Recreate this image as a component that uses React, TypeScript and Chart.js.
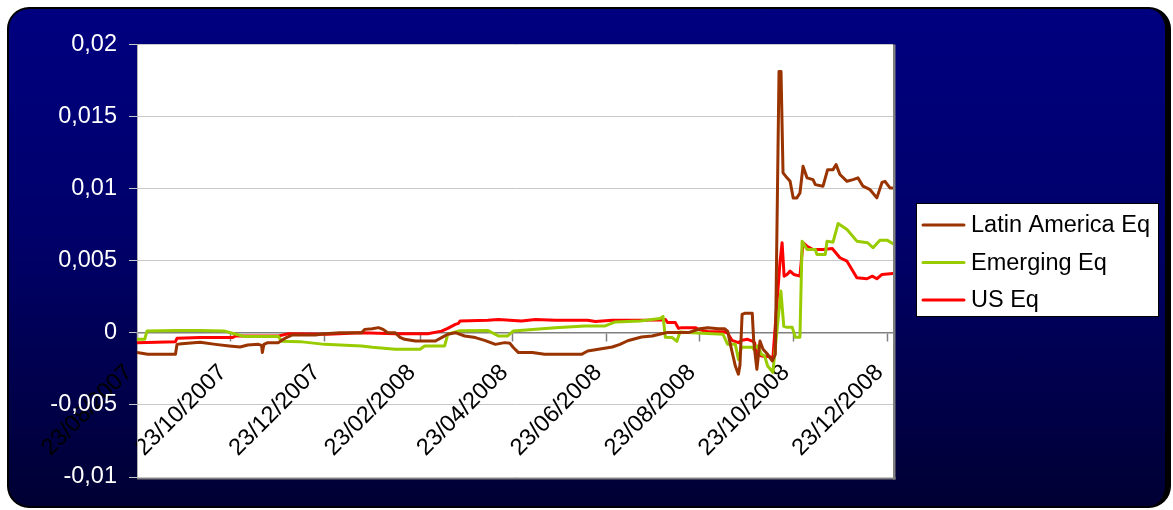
import React, { useEffect, useRef } from 'react';
import { Chart, registerables } from 'chart.js';

Chart.register(...registerables);

// ---- Axis definitions ----
const startDate = '23/08/2007';
const xTickLabels = [
  '23/08/2007', '23/10/2007', '23/12/2007', '23/02/2008', '23/04/2008',
  '23/06/2008', '23/08/2008', '23/10/2008', '23/12/2008',
];
const xMaxDay = 491.5; // last day shown (days since start date)
const yMin = -0.01;
const yMax = 0.02;
const yStep = 0.005;

// ---- Series (x = days since 23/08/2007) ----
const seriesLabels = ['Latin America Eq', 'Emerging Eq', 'US Eq'];

const latamDay = [
  0, 7, 25, 26, 29, 41, 51, 60, 67, 72, 79, 81, 81.5, 82.5, 85, 92, 94, 97.5, 101, 116,
  122, 132, 146, 148, 153, 157, 160, 163, 168, 171, 174, 181, 194, 198, 202, 207, 213, 220, 226, 233,
  239, 242.5, 244.5, 248, 257, 265, 289, 293, 300, 309, 314, 319, 328, 335, 341, 345, 359, 366, 371, 378,
  382, 384, 386, 389, 391, 392, 393.4, 395, 400, 401, 403, 405, 407, 410, 413, 415, 417.4, 418.7, 420, 422.6,
  424.6, 426.6, 429, 431, 433, 435.6, 439.5, 441, 446, 449, 452.5, 454.5, 457, 461.6, 465.5, 468.7, 472, 476.6, 481, 484.4,
  486.3, 489.5, 491.5,
];
const latamValue = [
  -0.00137, -0.00149, -0.00149, -0.0008, -0.00075, -0.00066, -0.0008, -0.00091, -0.00098, -0.00084,
  -0.0008, -0.00087, -0.00137, -0.0008, -0.00068, -0.00068, -0.00052, -0.00031, -0.00015, -0.00015,
  -0.00006, 0.00001, 0, 0.00024, 0.00028, 0.00036, 0.00024, 0.00001, 0, -0.00031,
  -0.00045, -0.00057, -0.00057, -0.00033, -0.0001, 0.00001, -0.00022, -0.00033, -0.00052, -0.0008,
  -0.00068, -0.00073, -0.001, -0.00137, -0.00137, -0.00149, -0.00149, -0.00126, -0.00114, -0.00098,
  -0.0008, -0.00055, -0.00029, -0.00022, -0.00006, 0.00003, 0.00003, 0.00028, 0.00036, 0.00029,
  0.00028, 0.00012, -0.00091, -0.0023, -0.00287, -0.00225, 0.00128, 0.00135, 0.00135, -0.00066,
  -0.00253, -0.00057, -0.00114, -0.00149, -0.00195, -0.00149, 0.01813, 0.01813, 0.0111, 0.01075,
  0.01051, 0.00936, 0.00936, 0.0097, 0.01155, 0.01075, 0.01063, 0.01028, 0.01017, 0.01132,
  0.01132, 0.01167, 0.01098, 0.01051, 0.01063, 0.01075, 0.01017, 0.00993, 0.00936, 0.01044,
  0.01051, 0.01005, 0.01005,
];

const emergingDay = [
  0, 5, 6.5, 25, 41, 57, 62, 70, 92, 94, 106, 122, 146, 153, 168, 184, 187, 200, 202, 210,
  228, 235, 241, 244.5, 272, 291, 304, 311, 327, 340, 342, 343.5, 348, 351, 353, 361, 381, 384, 389, 391,
  393, 400, 401, 403.5, 406, 408, 410, 413.4, 418.6, 420.5, 422.6, 426, 428, 431, 432.4, 435.6, 441, 442, 447.5, 448.6,
  452.5, 455.8, 461.6, 468, 475, 478.5, 483, 487.6, 491.5,
];
const emergingValue = [
  -0.00045, -0.00045, 0.00012, 0.00017, 0.00017, 0.00012, -0.00003, -0.00026, -0.00026, -0.00059,
  -0.00061, -0.0008, -0.00091, -0.001, -0.00114, -0.00114, -0.00091, -0.00091, -0.0001, 0.00014,
  0.00017, -0.00022, -0.00022, 0.00012, 0.00036, 0.00047, 0.00047, 0.00076, 0.00082, 0.001,
  0.00114, -0.00031, -0.00033, -0.00059, 0.00006, 0.00001, -0.0001, -0.0008, -0.0008, -0.00184,
  -0.001, -0.001, -0.00114, -0.00091, -0.00149, -0.0016, -0.0023, -0.00274, 0.0029, 0.00045,
  0.00038, 0.00038, -0.00031, -0.00031, 0.00636, 0.00578, 0.00578, 0.00544, 0.00544, 0.00636,
  0.00629, 0.00758, 0.00717, 0.00636, 0.00625, 0.0059, 0.00643, 0.00643, 0.00618,
];

const usDay = [
  0, 25, 26, 41, 62, 64, 92, 98, 124, 146, 168, 189, 198, 202, 207, 209, 210, 228, 235, 250,
  259, 272, 293, 298, 309, 341, 343.5, 345, 350, 352, 354, 363, 365, 371, 382, 384, 386.8, 391, 393.4, 397,
  400, 401.5, 403, 406, 411.5, 413.4, 418, 419.4, 420.7, 422.6, 424.6, 427, 431, 433, 435.6, 439.5, 446, 452, 457, 461.6,
  468, 474.6, 478, 481, 484.4, 491.5,
];
const usValue = [
  -0.00068, -0.00061, -0.00038, -0.00033, -0.00033, -0.00022, -0.00022, -0.00007, -0.0001, 0.00001,
  -0.00006, -0.00006, 0.00012, 0.00031, 0.00059, 0.00066, 0.00082, 0.00087, 0.00093, 0.00082,
  0.00093, 0.00087, 0.00087, 0.00078, 0.00087, 0.00089, 0.00093, 0.00071, 0.00071, 0.00031,
  0.00036, 0.00036, 0.00024, 0.00008, 0.00007, -0.00003, -0.00052, -0.00068, -0.00052, -0.00045,
  -0.00057, -0.00068, -0.00149, -0.0016, -0.00166, -0.00177, 0.00488, 0.00625, 0.00393, 0.00405,
  0.00428, 0.00405, 0.00393, 0.00625, 0.00601, 0.00578, 0.00578, 0.00585, 0.00521, 0.00497,
  0.00382, 0.00375, 0.00393, 0.00375, 0.00405, 0.00412,
];

const seriesColors = ['#993300', '#99CC00', '#FF0000'];

const FONT = "'Liberation Sans', Arial, sans-serif";

const toUTC = (s: string) => {
  const [d, m, y] = s.split('/').map(Number);
  return Date.UTC(y, m - 1, d);
};
const dayOf = (s: string) => Math.round((toUTC(s) - toUTC(startDate)) / 86400000);
const xTickDays = xTickLabels.map(dayOf);

const zip = (xs: number[], ys: number[]) => xs.map((x, i) => ({ x, y: ys[i] }));

const plotBgPlugin = {
  id: 'plotBg',
  beforeDraw(chart: any) {
    const { ctx, chartArea: a } = chart;
    ctx.save();
    ctx.fillStyle = '#ffffff';
    ctx.fillRect(a.left, a.top, a.right - a.left, a.bottom - a.top);
    ctx.fillStyle = '#808080';
    ctx.fillRect(a.right, a.top, 2.5, a.bottom - a.top + 2.5);
    ctx.fillRect(a.left, a.bottom, a.right - a.left + 2.5, 2.5);
    ctx.restore();
  },
};

const legendBoxPlugin = {
  id: 'legendBox',
  afterDraw(chart: any) {
    const { ctx } = chart;
    const left = 916;
    const top = 203;
    const w = 243;
    const h = 114;
    ctx.save();
    ctx.fillStyle = '#ffffff';
    ctx.fillRect(left, top, w, h);
    ctx.strokeStyle = '#000000';
    ctx.lineWidth = 1;
    ctx.strokeRect(left + 0.5, top + 0.5, w - 1, h - 1);
    const rowH = 37.5;
    chart.data.datasets.forEach((ds: any, i: number) => {
      const y = top + 22 + i * rowH;
      ctx.strokeStyle = ds.borderColor;
      ctx.lineWidth = 3;
      ctx.lineCap = 'round';
      ctx.beginPath();
      ctx.moveTo(923, y);
      ctx.lineTo(964, y);
      ctx.stroke();
      ctx.fillStyle = '#000000';
      ctx.font = `23.5px ${FONT}`;
      ctx.textAlign = 'left';
      ctx.textBaseline = 'alphabetic';
      ctx.fillText(ds.label, 971, y + 7);
    });
    ctx.restore();
  },
};

export default function App() {
  const canvasRef = useRef<HTMLCanvasElement | null>(null);

  useEffect(() => {
    const canvas = canvasRef.current;
    if (!canvas) return;
    const days = [latamDay, emergingDay, usDay];
    const vals = [latamValue, emergingValue, usValue];
    const chart = new Chart(canvas, {
      type: 'line',
      data: {
        datasets: seriesLabels.map((label, i) => ({
          label,
          data: zip(days[i], vals[i]),
          borderColor: seriesColors[i],
          backgroundColor: seriesColors[i],
          borderWidth: 3,
          pointRadius: 0,
          tension: 0,
          borderJoinStyle: 'round' as const,
          borderCapStyle: 'round' as const,
        })),
      },
      options: {
        responsive: false,
        animation: false,
        devicePixelRatio: 1,
        layout: { padding: { left: 0, top: 44.5, right: 280, bottom: 33 } },
        plugins: {
          legend: { display: false },
          tooltip: { enabled: false },
        },
        scales: {
          x: {
            type: 'linear',
            position: { y: 0 } as any,
            min: 0,
            max: xMaxDay,
            afterBuildTicks: (scale: any) => {
              scale.ticks = xTickDays.map((v) => ({ value: v }));
            },
            afterFit: (scale: any) => {
              scale.height = 0;
              scale.paddingLeft = 0;
              scale.paddingRight = 0;
            },
            grid: {
              drawOnChartArea: false,
              drawTicks: true,
              tickLength: 8,
              tickColor: '#808080',
              tickWidth: 1.5,
            },
            border: { display: true, color: '#808080', width: 1.5 },
            ticks: {
              autoSkip: false,
              minRotation: 45,
              maxRotation: 45,
              padding: 18,
              labelOffset: -8,
              color: '#000000',
              font: { family: FONT, size: 23.5 },
              callback: (_v: any, i: number) => xTickLabels[i],
            },
          },
          y: {
            type: 'linear',
            min: yMin,
            max: yMax,
            afterFit: (scale: any) => {
              scale.width = 137;
            },
            grid: {
              color: '#c8c8c8',
              lineWidth: 1,
              tickLength: 8,
              tickColor: '#c8c8c8',
            },
            border: { display: true, color: '#b0b0b0', width: 1 },
            ticks: {
              stepSize: yStep,
              padding: 12,
              color: '#ffffff',
              font: { family: FONT, size: 23.5 },
              callback: (v: any) => parseFloat(Number(v).toFixed(6)).toString().replace('.', ','),
            },
          },
        },
      },
      plugins: [plotBgPlugin, legendBoxPlugin],
    });
    return () => chart.destroy();
  }, []);

  return (
    <div>
      <div
        style={{
          position: 'absolute',
          left: 7,
          top: 7,
          width: 1164,
          height: 501,
          boxSizing: 'border-box',
          borderRadius: 22,
          border: '2px solid #000000',
          borderRightWidth: 6,
          background: 'linear-gradient(to bottom, #000080 0%, #00006a 45%, #000034 100%)',
        }}
      />
      <canvas
        ref={canvasRef}
        width={1173}
        height={510}
        style={{ position: 'absolute', left: 0, top: 0, width: 1173, height: 510 }}
      />
    </div>
  );
}
